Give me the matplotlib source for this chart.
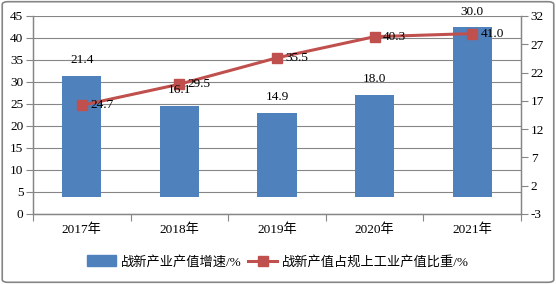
import matplotlib
matplotlib.use("Agg")
import matplotlib.pyplot as plt
from matplotlib.patches import FancyBboxPatch
from matplotlib.lines import Line2D
from matplotlib.patches import Patch

plt.rcParams['font.family'] = ['Liberation Serif', 'Noto Sans CJK SC']
plt.rcParams['axes.unicode_minus'] = False

years = ['2017年', '2018年', '2019年', '2020年', '2021年']
growth = [21.4, 16.1, 14.9, 18.0, 30.0]          # bars, right axis
share = [24.7, 29.5, 35.5, 40.3, 41.0]           # line, left axis
left_ticks = [0, 5, 10, 15, 20, 25, 30, 35, 40, 45]
right_ticks = [-3, 2, 7, 12, 17, 22, 27, 32]
bar_name = '战新产业产值增速/%'
line_name = '战新产值占规上工业产值比重/%'

bar_color = '#4F81BD'
line_color = '#C0504D'
gray = '#868686'
fs = 9.5

fig = plt.figure(figsize=(5.56, 2.84), dpi=100)
fig.patch.set_facecolor('white')
border = FancyBboxPatch((0.004, 0.006), 0.992, 0.988, boxstyle='round,pad=0,rounding_size=0.01',
                        transform=fig.transFigure, facecolor='none', edgecolor=gray,
                        linewidth=1.2, zorder=10)
fig.add_artist(border)

ax = fig.add_axes([33/556, 1-214/284, (521-33)/556, (214-16)/284])
ax.set_facecolor('none')
ax2 = ax.twinx()

x = list(range(len(years)))
ax.set_xlim(-0.5, len(years)-0.5)
ax.set_ylim(0, 45)
ax.set_yticks(left_ticks)
ax.yaxis.grid(True, color=gray, linewidth=0.8)
ax.set_axisbelow(True)
ax.set_xticks([i-0.5 for i in range(len(years)+1)])
ax.set_xticklabels([])
ax.set_xticks(x, minor=True)
ax.set_xticklabels(years, minor=True, fontsize=fs)
ax.tick_params(axis='x', which='minor', length=0, pad=7)
ax.tick_params(axis='x', which='major', length=5, color=gray, direction='out')
ax.tick_params(axis='y', length=5, color=gray, labelsize=fs, pad=2)

ax2.set_ylim(-3, 32)
ax2.set_yticks(right_ticks)
ax2.tick_params(axis='y', length=5, color=gray, labelsize=fs, pad=2)

for a in (ax, ax2):
    a.spines['top'].set_visible(False)
    for s in ('left', 'right', 'bottom'):
        a.spines[s].set_color(gray)
        a.spines[s].set_linewidth(0.9)

bars = ax2.bar(x, growth, width=0.4, color=bar_color, bottom=0, zorder=2)
for xi, v in zip(x, growth):
    ax2.annotate(f'{v:.1f}', (xi, v), xytext=(0, 7), textcoords='offset points',
                 ha='center', va='bottom', fontsize=fs, zorder=5)

ax2.plot(x, share, color=line_color, linewidth=2.2, marker='s', markersize=7.5,
         transform=ax.transData, zorder=4, clip_on=False)
for xi, v in zip(x, share):
    ax2.annotate(f'{v:.1f}', (xi, v), xytext=(6, 0), textcoords='offset points',
                 xycoords=ax.transData, ha='left', va='center', fontsize=fs, zorder=5)

handles = [Patch(facecolor=bar_color, edgecolor=bar_color),
           Line2D([0], [0], color=line_color, linewidth=2.2, marker='s', markersize=7.5)]
fig.legend(handles, [bar_name, line_name], loc='center', bbox_to_anchor=(0.5, 1-262/284),
           ncol=2, frameon=False, fontsize=fs, handlelength=2.2, handleheight=0.9,
           handletextpad=0.35, columnspacing=0.5)

fig.savefig('out.png', dpi=100)
